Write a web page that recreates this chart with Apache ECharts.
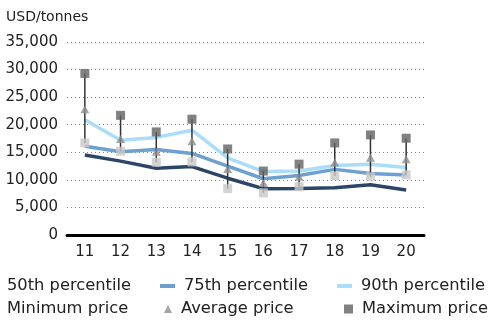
<!DOCTYPE html>
<html>
<head>
<meta charset="utf-8">
<script src="https://cdn.jsdelivr.net/npm/echarts@6/dist/echarts.min.js"></script>
<style>
html,body{margin:0;padding:0;background:#fff;}
#chart{width:491px;height:320px;}
</style>
</head>
<body>
<div id="chart"></div>
<script>
var categories = ['11','12','13','14','15','16','17','18','19','20'];
var p50 = [14500, 13400, 12100, 12400, 10300, 8400, 8450, 8550, 9100, 8150];
var p75 = [16100, 15100, 15500, 14800, 12500, 10200, 10800, 11900, 11150, 10900];
var p90 = [20900, 17200, 17700, 19000, 14000, 11500, 11600, 12600, 12850, 12250];
var minPrice = [16700, 15200, 13200, 13250, 8400, 7650, 8750, 10700, 10550, 10900];
var avgPrice = [22800, 17400, 15100, 17000, 11950, 9450, 10550, 13150, 14000, 13750];
var maxPrice = [29300, 21700, 18700, 21000, 15600, 11600, 12850, 16700, 18150, 17550];
var yTicks = [0, 5000, 10000, 15000, 20000, 25000, 30000, 35000];

var FONT = 'DejaVu Sans';
var chart = echarts.init(document.getElementById('chart'));

var rangeData = categories.map(function (c, i) { return [i, minPrice[i], maxPrice[i]]; });

function legendBox(name, left, top, icon, w, h) {
  return {
    show: true, left: left, top: top, orient: 'horizontal',
    itemWidth: w, itemHeight: h, itemGap: 0, padding: 0,
    selectedMode: false,
    textStyle: { fontFamily: FONT, fontSize: 16.3, color: '#222', padding: [0, 0, 0, 4] },
    data: [{ name: name, icon: icon }]
  };
}

var option = {
  animation: false,
  backgroundColor: '#fff',
  title: {
    text: 'USD/tonnes', left: 6, top: 10, padding: 0,
    textStyle: { fontFamily: FONT, fontSize: 14, fontWeight: 'normal', color: '#222' }
  },
  grid: { left: 67, right: 67, top: 42, bottom: 85 },
  legend: [
    legendBox('50th percentile', -17, 278, 'none', 15, 4),
    legendBox('75th percentile', 160, 278, 'rect', 15, 4),
    legendBox('90th percentile', 337, 278, 'rect', 15, 4),
    legendBox('Minimum price', -11, 301, 'none', 9, 9),
    legendBox('Average price', 164, 301, 'triangle', 8, 8),
    legendBox('Maximum price', 344, 301, 'rect', 9, 9)
  ],
  xAxis: {
    type: 'category', data: categories, boundaryGap: true,
    axisLine: { show: true, lineStyle: { color: '#000', width: 3 } },
    axisTick: { show: false },
    axisLabel: { fontFamily: FONT, fontSize: 15, color: '#222', margin: 10 }
  },
  yAxis: {
    type: 'value', min: 0, max: 35000, interval: 5000,
    axisLine: { show: false }, axisTick: { show: false },
    axisLabel: {
      fontFamily: FONT, fontSize: 15, color: '#222', margin: 9,
      formatter: function (v) { return yTicks.indexOf(v) >= 0 ? v.toLocaleString('en-US') : ''; }
    },
    splitLine: { show: true, lineStyle: { color: '#888', type: [1, 3], width: 1 } }
  },
  series: [
    { name: '50th percentile', type: 'line', data: p50, symbol: 'none', z: 2,
      lineStyle: { color: '#2c4566', width: 3.5 }, itemStyle: { color: '#2c4566' } },
    { name: '75th percentile', type: 'line', data: p75, symbol: 'none', z: 2,
      lineStyle: { color: '#6e9fd1', width: 3.5 }, itemStyle: { color: '#6e9fd1' } },
    { name: '90th percentile', type: 'line', data: p90, symbol: 'none', z: 2,
      lineStyle: { color: '#a9ddf9', width: 3.5 }, itemStyle: { color: '#a9ddf9' } },
    { name: 'range', type: 'custom', z: 3, data: rangeData,
      renderItem: function (params, api) {
        var a = api.coord([api.value(0), api.value(1)]);
        var b = api.coord([api.value(0), api.value(2)]);
        return { type: 'line', shape: { x1: a[0], y1: a[1], x2: b[0], y2: b[1] },
          style: { stroke: '#333', lineWidth: 1.5 } };
      } },
    { name: 'Minimum price', type: 'scatter', data: minPrice, symbol: 'rect', symbolSize: 9, z: 4,
      itemStyle: { color: '#c8c8c8' } },
    { name: 'Average price', type: 'scatter', data: avgPrice, symbol: 'triangle', symbolSize: [9, 8], z: 4,
      itemStyle: { color: '#8e8e8e' } },
    { name: 'Maximum price', type: 'scatter', data: maxPrice, symbol: 'rect', symbolSize: 9, z: 4,
      itemStyle: { color: '#626262' } }
  ]
};
chart.setOption(option);
</script>
</body>
</html>
